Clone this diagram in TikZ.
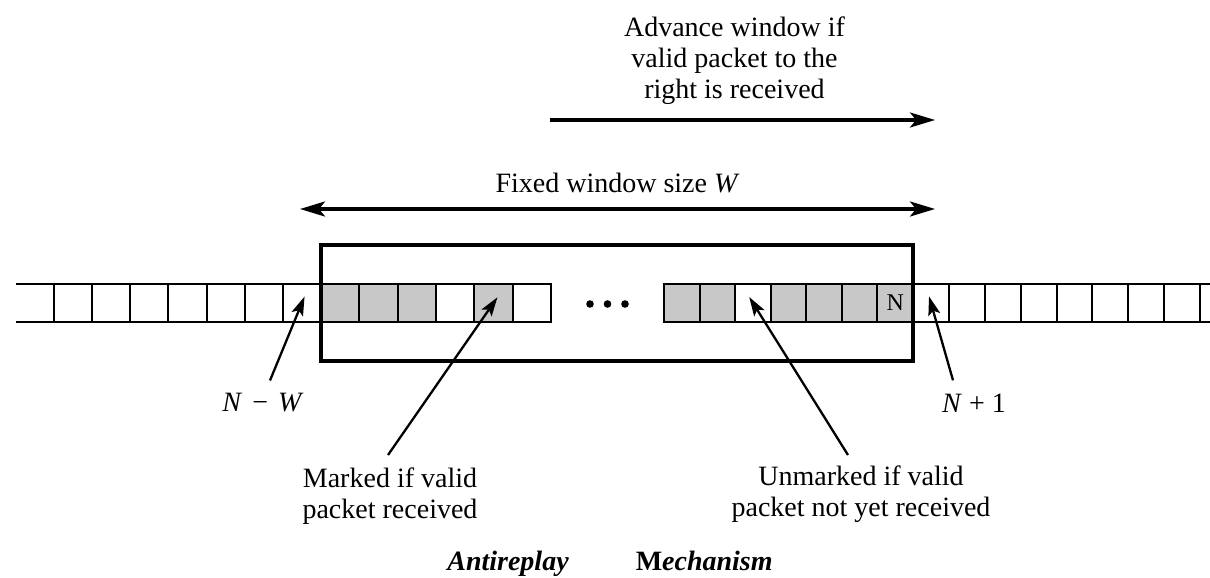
\documentclass[tikz,border=0pt]{standalone}
\usepackage{fontspec}
\setmainfont{Liberation Serif}
\usetikzlibrary{arrows.meta, positioning, fit, calc}
\definecolor{markgray}{RGB}{200,200,200}

\tikzset{
  slot/.style={draw, line width=2pt, minimum width=#1, minimum height=38pt, inner sep=0pt, outer sep=0pt},
  cellline/.style={line width=2pt},
  lbl/.style={font=\fontsize{28}{31}\selectfont, inner sep=0pt},
  span/.style={line width=3.2pt, -{Stealth[length=25pt,width=15pt,inset=6pt]}},
  bispan/.style={line width=3.2pt, {Stealth[length=25pt,width=15pt,inset=6pt]}-{Stealth[length=25pt,width=15pt,inset=6pt]}},
  pointer/.style={line width=2.3pt, -{Stealth[length=19pt,width=12pt,inset=4pt]}, shorten >=-7pt}
}

\begin{document}
\begin{tikzpicture}[x=1pt, y=-1pt]
  \useasboundingbox (0,0) rectangle (1210,578);

  % cells left of the window
  \foreach \i in {1,...,7}
    \node[slot=38.14pt] (l\i) at ({54+38.14*(\i-0.5)},303) {};
  \draw[cellline] (l1.north west) -- ++(-38,0) (l1.south west) -- ++(-38,0);

  % cells inside the window
  \foreach \i/\f in {1/markgray,2/markgray,3/markgray,4/white,5/markgray,6/white}
    \node[slot=38.33pt, fill=\f] (a\i) at ({321+38.33*(\i-0.5)},303) {};
  \foreach \i/\f in {1/markgray,2/markgray,3/white,4/markgray,5/markgray,6/markgray,7/markgray}
    \node[slot=35.57pt, fill=\f] (b\i) at ({664+35.57*(\i-0.5)},303) {};
  \node[font=\fontsize{24}{24}\selectfont, inner sep=0pt] (ntext) at (b7.center) {N};
  \foreach \x in {590,607.5,625}
    \fill (\x,304) circle (3.8pt);

  % cells right of the window
  \foreach \i in {1,...,8}
    \node[slot=35.875pt] (r\i) at ({913+35.875*(\i-0.5)},303) {};
  \draw[cellline] (r8.north east) -- ++(12,0) (r8.south east) -- ++(12,0);

  % window
  \node[fit=(a1)(b7), draw, line width=3.4pt, inner xsep=0pt, inner ysep=39pt] (window) {};

  % window arrows
  \coordinate (fw-l) at (300,209);
  \coordinate (fw-r) at (935,209);
  \draw[bispan] (fw-l) -- node[lbl, above=14pt] (fwtext) {Fixed window size \textit{W}} (fw-r);
  \coordinate (adv-l) at (550,120);
  \coordinate (adv-r) at (935,120);
  \draw[span] (adv-l) -- node[lbl, above=14pt, xshift=-8pt, align=center] (advtext)
    {Advance window if\\valid packet to the\\right is received} (adv-r);

  % labels
  \node[lbl, anchor=base] (nw) at (263,411) {\textit{N}\hspace{10pt}−\hspace{10pt}\textit{W}};
  \node[lbl, anchor=base] (np) at (974,412) {\textit{N} + 1};
  \node[lbl, anchor=north, align=center] (marked) at (390,468) {Marked if valid\\packet received};
  \node[lbl, anchor=north, align=center] (unmarked) at (861,466) {Unmarked if valid\\packet not yet received};

  \draw[pointer] ([xshift=7pt,yshift=12pt]nw.north) -- (l7.center);
  \draw[pointer] ([xshift=-2pt,yshift=13pt]marked.north) -- (a5.center);
  \draw[pointer] ([xshift=-13pt,yshift=11pt]unmarked.north) -- (b3.center);
  \draw[pointer] ([xshift=-21pt,yshift=13pt]np.north) -- (r1.center);

  % caption
  \node[lbl, anchor=base, font=\fontsize{28}{31}\selectfont\bfseries] (caption) at (610,570)
    {\textit{Antireplay}\hspace{67pt}M\textit{echanism}};
\end{tikzpicture}
\end{document}
